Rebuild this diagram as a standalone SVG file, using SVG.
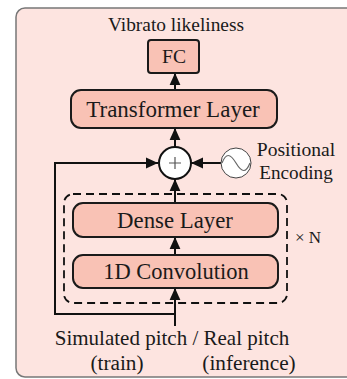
<svg xmlns="http://www.w3.org/2000/svg" width="347" height="379" viewBox="0 0 347 379">
<style>
.t{font-family:"Liberation Serif","Times New Roman",serif;fill:#1a1a1a;text-anchor:middle}
.box{fill:#f9c2b5;stroke:#1a1a1a;stroke-width:2}
.ln{fill:none;stroke:#111;stroke-width:2}
</style>
<defs>
<marker id="a" viewBox="0 0 10 10" refX="10" refY="5" markerWidth="12" markerHeight="12" markerUnits="userSpaceOnUse" orient="auto">
<path d="M0,0.5 L10,5 L0,9.5 Z" fill="#111"/>
</marker>
</defs>
<rect x="16" y="8" width="345" height="369" rx="9" fill="#fde4e0" stroke="#777" stroke-width="1.5"/>
<text class="t" x="176" y="31" font-size="19.4">Vibrato likeliness</text>
<g id="dashed">
<rect x="64" y="194" width="223" height="109" rx="9" fill="none" stroke="#111" stroke-width="1.8" stroke-dasharray="8,5"/>
</g>
<g id="connectors">
<line class="ln" x1="175" y1="90" x2="175" y2="73" marker-end="url(#a)"/>
<line class="ln" x1="175" y1="147" x2="175" y2="128" marker-end="url(#a)"/>
<line class="ln" x1="175" y1="203" x2="175" y2="179" marker-end="url(#a)"/>
<line class="ln" x1="175" y1="255" x2="175" y2="237" marker-end="url(#a)"/>
<line class="ln" x1="175" y1="326" x2="175" y2="288" marker-end="url(#a)"/>
<polyline class="ln" points="175,314 55,314 55,163 158,163" marker-end="url(#a)"/>
<line class="ln" x1="221" y1="163" x2="191" y2="163" marker-end="url(#a)"/>
</g>
<g id="fc">
<rect class="box" x="148" y="40" width="51" height="33" rx="3"/>
<text class="t" x="174" y="63" font-size="19.6">FC</text>
</g>
<g id="transformer">
<rect class="box" x="71" y="90" width="206" height="38" rx="10"/>
<text class="t" x="173" y="117" font-size="23">Transformer Layer</text>
</g>
<g id="plus">
<circle cx="175" cy="163" r="16" fill="#fff" stroke="#111" stroke-width="2"/>
<path d="M169,163 H181 M175,157 V169" stroke="#555" stroke-width="1.2"/>
</g>
<g id="posenc">
<circle cx="236" cy="163" r="15" fill="#fff" stroke="#444" stroke-width="1"/>
<path d="M222,163 C226,153 230,153 236,163 C242,173 246,173 250,163" fill="none" stroke="#666" stroke-width="1.2"/>
<text class="t" x="296" y="156" font-size="19.6">Positional</text>
<text class="t" x="296" y="179" font-size="19.2">Encoding</text>
</g>
<g id="dense">
<rect class="box" x="73" y="203" width="205" height="34" rx="10"/>
<text class="t" x="175" y="228" font-size="22.8">Dense Layer</text>
</g>
<g id="conv">
<rect class="box" x="73" y="255" width="205" height="33" rx="10"/>
<text class="t" x="176" y="279" font-size="22.5">1D Convolution</text>
</g>
<text class="t" x="308" y="243" font-size="17">× N</text>
<g id="input">
<text class="t" x="172" y="345" font-size="21">Simulated pitch / Real pitch</text>
<text class="t" x="117" y="370" font-size="21.3">(train)</text>
<text class="t" x="249" y="370" font-size="21.3">(inference)</text>
</g>
</svg>
